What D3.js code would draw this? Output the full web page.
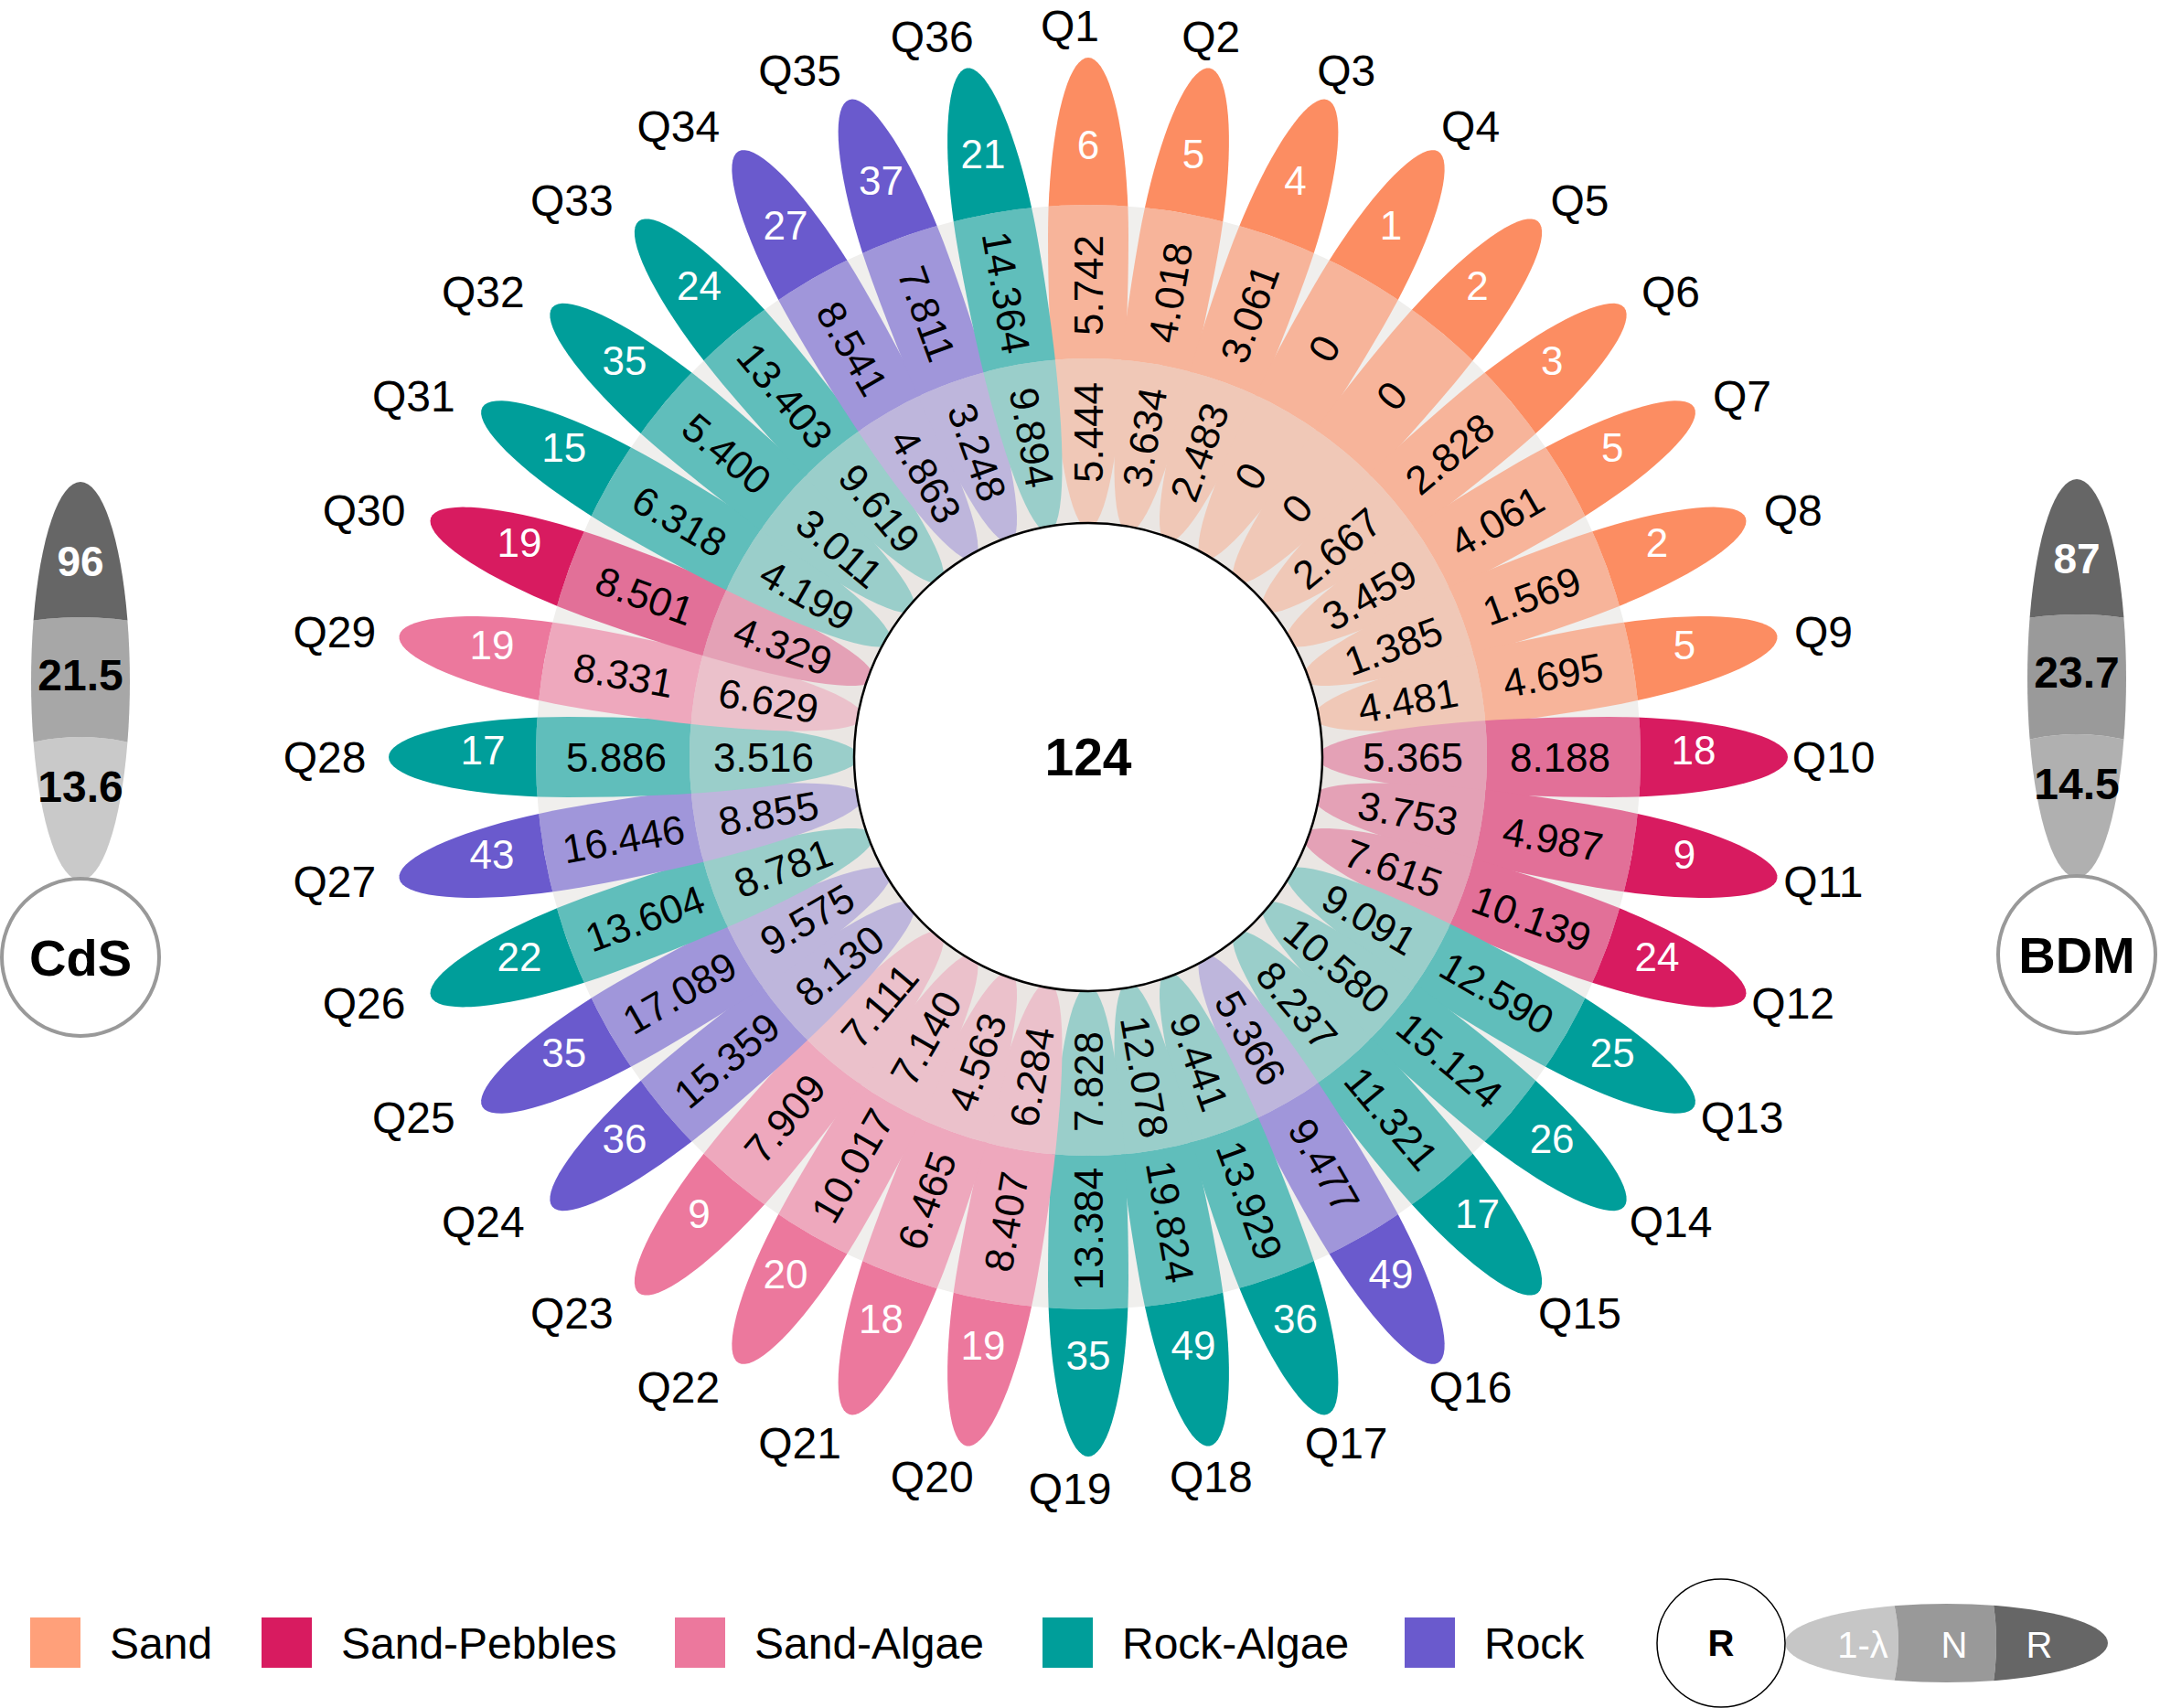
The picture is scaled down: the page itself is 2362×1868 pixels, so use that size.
<!DOCTYPE html>
<meta charset="utf-8">
<style>
body { margin: 0; background: #fff; }
svg text { font-family: "Liberation Sans", Arial, Helvetica, sans-serif; }
</style>
<script src="https://cdn.jsdelivr.net/npm/d3@7/dist/d3.min.js"></script>
<body>
<script>

// ---- data ----
var quadrats = ["Q1","Q2","Q3","Q4","Q5","Q6","Q7","Q8","Q9","Q10","Q11","Q12",
  "Q13","Q14","Q15","Q16","Q17","Q18","Q19","Q20","Q21","Q22","Q23","Q24",
  "Q25","Q26","Q27","Q28","Q29","Q30","Q31","Q32","Q33","Q34","Q35","Q36"];

var habitat = ["Sand","Sand","Sand","Sand","Sand","Sand","Sand","Sand","Sand",
  "Sand-Pebbles","Sand-Pebbles","Sand-Pebbles",
  "Rock-Algae","Rock-Algae","Rock-Algae","Rock","Rock-Algae","Rock-Algae","Rock-Algae",
  "Sand-Algae","Sand-Algae","Sand-Algae","Sand-Algae",
  "Rock","Rock","Rock-Algae","Rock","Rock-Algae","Sand-Algae","Sand-Pebbles",
  "Rock-Algae","Rock-Algae","Rock-Algae","Rock","Rock","Rock-Algae"];

// R (outer), N (middle), 1-lambda (inner)
var richness = [6,5,4,1,2,3,5,2,5,18,9,24,25,26,17,49,36,49,35,19,18,20,9,36,35,22,43,17,19,19,15,35,24,27,37,21];
var abundance = [5.742,4.018,3.061,0,0,2.828,4.061,1.569,4.695,8.188,4.987,10.139,12.590,15.124,11.321,9.477,13.929,19.824,
  13.384,8.407,6.465,10.017,7.909,15.359,17.089,13.604,16.446,5.886,8.331,8.501,6.318,5.400,13.403,8.541,7.811,14.364];
var evenness = [5.444,3.634,2.483,0,0,2.667,3.459,1.385,4.481,5.365,3.753,7.615,9.091,10.580,8.237,5.366,9.441,12.078,
  7.828,6.284,4.563,7.140,7.111,8.130,9.575,8.781,8.855,3.516,6.629,4.329,4.199,3.011,9.619,4.863,3.248,9.894];

var totalRichness = 124;

var habitats = ["Sand","Sand-Pebbles","Sand-Algae","Rock-Algae","Rock"];
var habitatColors = ["#fc8d62","#d81b60","#ec789d","#009e9a","#6a5acd"];
var legendColors = ["#ffa07a","#d81b60","#ec789d","#009e9a","#6a5acd"];

var sites = ["CdS","BDM"];
var siteR = [96, 87];
var siteN = [21.5, 23.7];
var siteL = [13.6, 14.5];

var keyLabels = ["1-λ","N","R"];

// ---- layout ----
var W = 2362, H = 1868;
var cx = 1190, cy = 828;
var rCore = 256, rCut1 = 436, rCut2 = 604, rTip = 765, petalW = 44;

var svg = d3.select("body").append("svg")
    .attr("width", W)
    .attr("height", H);

var defs = svg.append("defs");
var clipCount = 0;

// three annular clips (inner / middle / outer band) around the local origin
function makeClips(c1, c2) {
  var id = "c" + (clipCount++);
  var arc = d3.arc().startAngle(0).endAngle(2 * Math.PI);
  var rings = [[0, c1], [c1, c2], [c2, 3000]];
  rings.forEach(function(r, i) {
    defs.append("clipPath").attr("id", id + "_" + i)
      .append("path")
      .attr("d", arc({innerRadius: r[0], outerRadius: r[1]}));
  });
  return id;
}

// egg-shaped petal pointing up (negative y), widest at fraction tm of its length
function petalPath(r0, r1, hw, tm) {
  var L = r1 - r0, pts = [], n = 40, i, phi, r;
  for (i = 0; i <= n; i++) {            // right side, base to tip
    phi = Math.PI * i / n;
    r = phi <= Math.PI / 2 ? r0 + L * tm * (1 - Math.cos(phi))
                           : r0 + L * (tm - (1 - tm) * Math.cos(phi));
    pts.push([hw * Math.sin(phi), -r]);
  }
  for (i = n - 1; i > 0; i--) pts.push([-pts[i][0], pts[i][1]]);
  return d3.line().curve(d3.curveLinearClosed)(pts);
}

function drawPetal(g, d, clipId, fills) {
  fills.forEach(function(f, i) {
    g.append("path")
      .attr("d", d)
      .attr("clip-path", "url(#" + clipId + "_" + i + ")")
      .style("fill", f);
  });
}

var angle = d3.scaleBand().domain(quadrats).range([0, 360]);
var color = d3.scaleOrdinal().domain(habitats).range(habitatColors);
var fmt = function(v) { return v === 0 ? "0" : d3.format(".3f")(v); };

var grayMid = "#f0efed", grayIn = "#eae6e3";

// background rings
var ring = d3.arc().startAngle(0).endAngle(2 * Math.PI);
var flower = svg.append("g").attr("transform", "translate(" + cx + "," + cy + ")");
flower.append("path").attr("d", ring({innerRadius: 0, outerRadius: rCut2})).style("fill", grayMid);
flower.append("path").attr("d", ring({innerRadius: 0, outerRadius: rCut1})).style("fill", grayIn);

var mainClip = makeClips(rCut1, rCut2);
var mainPetal = petalPath(rCore - 6, rTip, petalW, 0.62);

var data = quadrats.map(function(q, i) {
  return {q: q, hab: habitat[i], R: richness[i], N: abundance[i], L: evenness[i]};
});

data.forEach(function(d) {
  var c = color(d.hab);
  var g = flower.append("g").attr("transform", "rotate(" + angle(d.q) + ")");
  drawPetal(g, mainPetal, mainClip, [
    d3.interpolateRgb(grayIn, c)(0.34),
    d3.interpolateRgb(grayMid, c)(0.6),
    c
  ]);
});

function pos(a, r) {
  var t = a * Math.PI / 180;
  return [r * Math.sin(t), -r * Math.cos(t)];
}
function textRot(a) { return a < 180 ? a - 90 : a + 90; }

var labels = flower.append("g");

data.forEach(function(d) {
  var a = angle(d.q), t = a * Math.PI / 180;
  var s = Math.sin(t), c = Math.cos(t);
  var pN = pos(a, 516), pL = pos(a, 355), pR = pos(a, 662);

  [[pL, fmt(d.L)], [pN, fmt(d.N)]].forEach(function(tx) {
    labels.append("text")
      .attr("x", tx[0][0]).attr("y", tx[0][1])
      .attr("transform", "rotate(" + textRot(a) + "," + tx[0][0] + "," + tx[0][1] + ")")
      .attr("text-anchor", "middle")
      .attr("dominant-baseline", "central")
      .style("font-size", "44px")
      .style("fill", "#000")
      .text(tx[1]);
  });

  labels.append("text")
    .attr("x", pR[0]).attr("y", pR[1] - 8)
    .attr("text-anchor", "middle")
    .attr("dominant-baseline", "central")
    .style("font-size", "44px")
    .style("fill", "#fff")
    .text(d.R);

  // quadrat names sit on a slightly squared ring
  labels.append("text")
    .attr("x", -20 + 10 * Math.abs(s) + (825 + 55 * c * c) * s)
    .attr("y", -(785 + 15 * c * c) * c)
    .attr("text-anchor", "middle")
    .attr("dominant-baseline", "central")
    .style("font-size", "48px")
    .style("fill", "#000")
    .text(d.q);
});

// centre disc
flower.append("circle")
  .attr("r", rCore)
  .style("fill", "#fff")
  .style("stroke", "#000")
  .style("stroke-width", 2.5);

flower.append("text")
  .attr("text-anchor", "middle")
  .attr("dominant-baseline", "central")
  .style("font-size", "57px")
  .style("font-weight", "bold")
  .text(totalRichness);

// ---- side summaries (CdS, BDM) ----
var siteX = [88, 2271], siteY = [1047, 1044];
var siteFills = [["#c9c9c9","#a7a7a7","#666666"], ["#b0b0b0","#9a9a9a","#666666"]];
var siteClip = makeClips(241, 372);
var sitePetal = petalPath(84, 520, 54, 0.5);

sites.forEach(function(s, i) {
  var g = svg.append("g").attr("transform", "translate(" + siteX[i] + "," + siteY[i] + ")");
  drawPetal(g, sitePetal, siteClip, siteFills[i]);

  g.append("circle")
    .attr("r", 86)
    .style("fill", "#fff")
    .style("stroke", "#999")
    .style("stroke-width", 4);

  g.append("text")
    .attr("text-anchor", "middle").attr("dominant-baseline", "central")
    .style("font-size", "56px").style("font-weight", "bold")
    .text(s);

  [[433, siteR[i], "#fff", 46], [309, siteN[i], "#000", 48], [187, siteL[i], "#000", 48]].forEach(function(t) {
    g.append("text")
      .attr("y", -t[0])
      .attr("text-anchor", "middle").attr("dominant-baseline", "central")
      .style("font-size", t[3] + "px").style("font-weight", "bold")
      .style("fill", t[2])
      .text(t[1]);
  });
});

// ---- legend ----
var legendX = [33, 286, 738, 1140, 1536];
var legY = 1797;
var legend = svg.append("g");

habitats.forEach(function(h, i) {
  legend.append("rect")
    .attr("x", legendX[i]).attr("y", legY - 28)
    .attr("width", 55).attr("height", 55)
    .style("fill", legendColors[i]);
  legend.append("text")
    .attr("x", legendX[i] + 87).attr("y", legY)
    .attr("dominant-baseline", "central")
    .style("font-size", "48px")
    .text(h);
});

// key petal
var key = svg.append("g").attr("transform", "translate(1882," + legY + ")");
var keyClip = makeClips(194, 301);
var keyPetal = key.append("g").attr("transform", "rotate(90)");
drawPetal(keyPetal, petalPath(70, 423, 43, 0.5), keyClip, ["#c6c6c6","#999999","#666666"]);

key.append("circle")
  .attr("r", 70)
  .style("fill", "#fff")
  .style("stroke", "#000")
  .style("stroke-width", 1.5);
key.append("text")
  .attr("text-anchor", "middle").attr("dominant-baseline", "central")
  .style("font-size", "40px").style("font-weight", "bold")
  .text("R");

[155, 255, 348].forEach(function(x, i) {
  key.append("text")
    .attr("x", x).attr("y", 2)
    .attr("text-anchor", "middle").attr("dominant-baseline", "central")
    .style("font-size", "40px")
    .style("fill", "#fff")
    .text(keyLabels[i]);
});

</script>
</body>
